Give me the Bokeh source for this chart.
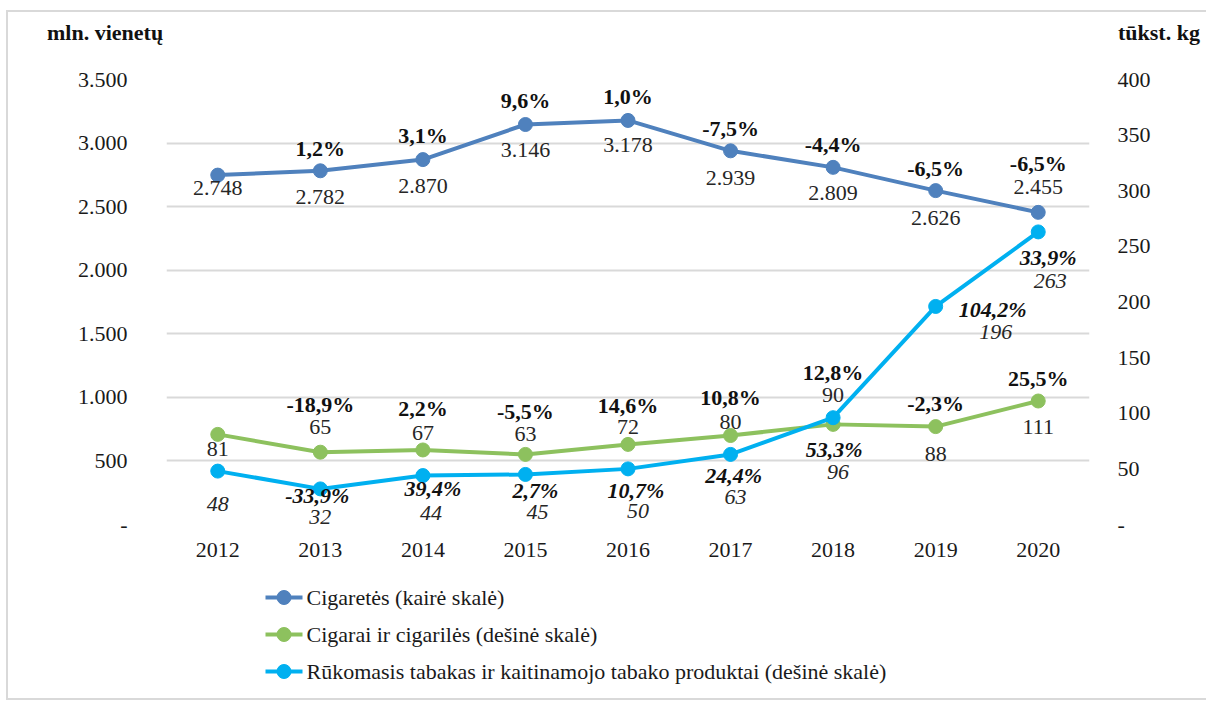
from bokeh.plotting import figure
from bokeh.layouts import column
from bokeh.models import (ColumnDataSource, Range1d, LinearAxis, FixedTicker, Div)
from bokeh.core.properties import value
from bokeh.embed import file_html
from bokeh.resources import INLINE

# ---------------- data ----------------
years = ["2012", "2013", "2014", "2015", "2016", "2017", "2018", "2019", "2020"]
cig = [2748, 2782, 2870, 3146, 3178, 2939, 2809, 2626, 2455]
cig_txt = ["2.748", "2.782", "2.870", "3.146", "3.178", "2.939", "2.809", "2.626", "2.455"]
cig_pct = ["", "1,2%", "3,1%", "9,6%", "1,0%", "-7,5%", "-4,4%", "-6,5%", "-6,5%"]
cigar = [81, 65, 67, 63, 72, 80, 90, 88, 111]
cigar_pct = ["", "-18,9%", "2,2%", "-5,5%", "14,6%", "10,8%", "12,8%", "-2,3%", "25,5%"]
tob = [48, 32, 44, 45, 50, 63, 96, 196, 263]
tob_pct = ["", "-33,9%", "39,4%", "2,7%", "10,7%", "24,4%", "53,3%", "104,2%", "33,9%"]
left_ticks = [0, 500, 1000, 1500, 2000, 2500, 3000, 3500]
left_tick_labels = ["-", "500", "1.000", "1.500", "2.000", "2.500", "3.000", "3.500"]
right_ticks = [0, 50, 100, 150, 200, 250, 300, 350, 400]
right_tick_labels = ["-", "50", "100", "150", "200", "250", "300", "350", "400"]
left_unit = "mln. vienetų"
right_unit = "tūkst. kg"
names = ["Cigaretės (kairė skalė)", "Cigarai ir cigarilės (dešinė skalė)",
         "Rūkomasis tabakas ir kaitinamojo tabako produktai (dešinė skalė)"]

# ---------------- label placement (styling, screen px) ----------------
cig_pct_dy = [0, -22, -24, -24, -24, -22, -23, -22, -49]
cig_val_dy = [13, 26, 26, 25, 25, 27, 26, 27, -25]
cigar_pct_dy = [0, -48, -41, -43, -39, -38, -52, -23, -23]
cigar_val_dy = [15, -25, -17, -20, -17, -14, -29, 27, 26]
tob_pct_dx = [0, -3, 10, 10, 8, 3, 1, 57, 10]
tob_pct_dy = [0, 7, 13, 16, 22, 21, 32, 3, 26]
tob_val_dx = [0, 0, 8, 12, 10, 5, 5, 60, 12]
tob_val_dy = [33, 28, 37, 38, 42, 43, 54, 26, 49]

C_CIG = "#4F81BD"
C_CIGAR = "#8DC15E"
C_TOB = "#00B0F0"
colors = [C_CIG, C_CIGAR, C_TOB]
FONT = "Liberation Serif"
FS = "22px"
W = 1198

# ---------------- header: unit captions ----------------
top = Div(width=W, height=38, margin=0,
          text=('<div style="position:relative;width:%dpx;height:38px;font-family:\'Liberation Serif\';'
                'font-weight:bold;font-size:22px;color:#111111;line-height:26px;">'
                '<span style="position:absolute;left:39px;top:8px;white-space:nowrap;">%s</span>'
                '<span style="position:absolute;left:1110px;top:8px;white-space:nowrap;">%s</span>'
                '</div>') % (W, left_unit, right_unit))

# ---------------- main chart ----------------
p = figure(x_range=years, y_range=Range1d(0, 3500), width=W, height=520,
           output_backend="svg", toolbar_location=None,
           min_border_left=158, min_border_right=117, min_border_top=29, min_border_bottom=46)
p.x_range.range_padding = 0
p.extra_y_ranges = {"right": Range1d(0, 400)}
p.outline_line_color = None

p.yaxis.ticker = FixedTicker(ticks=left_ticks)
p.yaxis.major_label_overrides = {t: s for t, s in zip(left_ticks, left_tick_labels)}
p.yaxis.major_label_standoff = 33
ra = LinearAxis(y_range_name="right", ticker=FixedTicker(ticks=right_ticks))
ra.major_label_overrides = {t: s for t, s in zip(right_ticks, right_tick_labels)}
ra.major_label_standoff = 22
p.add_layout(ra, "right")
for ax in [p.xaxis[0], p.yaxis[0], ra]:
    ax.axis_line_color = None
    ax.major_tick_line_color = None
    ax.minor_tick_line_color = None
    ax.major_label_text_font = FONT
    ax.major_label_text_font_size = FS
    ax.major_label_text_color = "#1a1a1a"
p.xaxis.major_label_standoff = 12
p.ygrid.ticker = FixedTicker(ticks=left_ticks)
p.ygrid.grid_line_color = "#d9d9d9"
p.ygrid.grid_line_width = 2
p.xgrid.grid_line_color = None

src = ColumnDataSource(dict(
    x=years, cig=cig, cig_txt=cig_txt, cig_pct=cig_pct,
    cigar=cigar, cigar_txt=[str(v) for v in cigar], cigar_pct=cigar_pct,
    tob=tob, tob_txt=[str(v) for v in tob], tob_pct=tob_pct,
    cig_pct_dy=cig_pct_dy, cig_val_dy=cig_val_dy,
    cigar_pct_dy=cigar_pct_dy, cigar_val_dy=cigar_val_dy,
    tob_pct_dx=tob_pct_dx, tob_pct_dy=tob_pct_dy, tob_val_dx=tob_val_dx, tob_val_dy=tob_val_dy,
))

p.line("x", "cig", source=src, color=C_CIG, line_width=4)
p.scatter("x", "cig", source=src, color=C_CIG, size=14)
p.line("x", "cigar", source=src, color=C_CIGAR, line_width=4, y_range_name="right")
p.scatter("x", "cigar", source=src, color=C_CIGAR, size=14, y_range_name="right")
p.line("x", "tob", source=src, color=C_TOB, line_width=4, y_range_name="right")
p.scatter("x", "tob", source=src, color=C_TOB, size=14, y_range_name="right")

common = dict(source=src, text_font=value(FONT), text_font_size=FS,
              text_align="center", text_baseline="middle")
p.text("x", "cig", text="cig_pct", y_offset="cig_pct_dy", text_font_style="bold",
       text_color="#111111", **common)
p.text("x", "cig", text="cig_txt", y_offset="cig_val_dy", text_color="#262626", **common)
p.text("x", "cigar", text="cigar_pct", y_offset="cigar_pct_dy", text_font_style="bold",
       text_color="#111111", y_range_name="right", **common)
p.text("x", "cigar", text="cigar_txt", y_offset="cigar_val_dy", text_color="#262626",
       y_range_name="right", **common)
p.text("x", "tob", text="tob_pct", x_offset="tob_pct_dx", y_offset="tob_pct_dy",
       text_font_style="bold italic", text_color="#111111", y_range_name="right", **common)
p.text("x", "tob", text="tob_txt", x_offset="tob_val_dx", y_offset="tob_val_dy",
       text_font_style="italic", text_color="#262626", y_range_name="right", **common)

# ---------------- legend strip (keys + serif labels drawn as glyphs) ----------------
# the strip's frame is aligned with the main frame (page x 166..1089, y 570..698);
# its ranges are laid out in page pixels so the legend rows can be placed directly
bot = figure(width=W, height=128, x_range=Range1d(166, 1089), y_range=Range1d(698, 570),
             output_backend="svg", toolbar_location=None,
             x_axis_location=None, y_axis_location=None,
             min_border=0, min_border_left=0, min_border_right=0,
             min_border_top=0, min_border_bottom=0)
bot.outline_line_color = None
bot.grid.visible = False
row_y = [597, 634, 671]          # legend row positions (layout)
key_x0, key_x1, lab_x = 265, 302, 306
leg = ColumnDataSource(dict(x0=[key_x0] * 3, x1=[key_x1] * 3, xm=[(key_x0 + key_x1) / 2] * 3,
                            xl=[lab_x] * 3, y=row_y, c=colors, t=names))
bot.segment("x0", "y", "x1", "y", source=leg, line_color="c", line_width=4)
bot.scatter("xm", "y", source=leg, color="c", size=14)
bot.text("xl", "y", text="t", source=leg, text_font=value(FONT), text_font_size=FS,
         text_baseline="middle", text_align="left", text_color="#1a1a1a")

layout = column(top, p, bot, spacing=0,
                styles={"margin-left": "6px", "margin-top": "10px",
                        "border-left": "2px solid #d9d9d9", "border-top": "2px solid #d9d9d9",
                        "border-bottom": "2px solid #d9d9d9"})

open("out.html", "w").write(file_html(layout, INLINE))
